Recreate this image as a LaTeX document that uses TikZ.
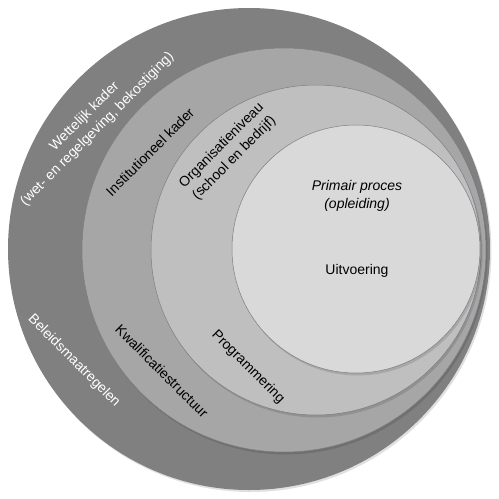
\documentclass[tikz,border=0pt]{standalone}
\usepackage{fontspec}
\setmainfont{Liberation Sans}
\definecolor{ringA}{HTML}{808080}
\definecolor{ringB}{HTML}{A6A6A6}
\definecolor{ringC}{HTML}{BFBFBF}
\definecolor{ringD}{HTML}{D9D9D9}
\definecolor{ringEdge}{HTML}{7A7F86}
\begin{document}
\begin{tikzpicture}[x=1pt,y=-1pt,
  lbl/.style={font=\fontsize{14}{18}\selectfont, align=center, inner sep=0pt},
  wlbl/.style={lbl, text=white},
  blbl/.style={lbl, text=black},
  shade/.style={fill=black, fill opacity=0.12},
  ring/.style={draw=ringEdge, line width=0.5pt}]
\useasboundingbox (0,0) rectangle (499,499);
% shadows and rings
\fill[shade] (250.5,251) circle (241pt);
\fill[ringA] (249,249) circle (241pt);
\fill[shade] (285.5,252.5) circle (202pt);
\filldraw[ringB, ring] (284,250) circle (202pt);
\fill[shade] (317.5,252.5) circle (165pt);
\filldraw[ringC, ring] (316,250) circle (165pt);
\fill[shade] (357.5,251.5) circle (124pt);
\filldraw[ringD, ring] (356,249) circle (124pt);
% labels
\node[wlbl, rotate=45] (wet) at (91,123) {Wettelijk kader\\(wet- en regelgeving, bekostiging)};
\node[blbl, rotate=45] (inst) at (150,152) {Institutioneel kader};
\node[blbl, rotate=45] (org) at (228,152) {Organisatieniveau\\(school en bedrijf)};
\node[blbl] (prim) at (357,196) {\itshape Primair proces\\\itshape (opleiding)};
\node[blbl] (uit) at (357,271) {Uitvoering};
\node[wlbl, rotate=-45] (bel) at (74,361) {Beleidsmaatregelen};
\node[blbl, rotate=-45] (kwal) at (162,371) {Kwalificatiestructuur};
\node[blbl, rotate=-45] (prog) at (248,367) {Programmering};
\end{tikzpicture}
\end{document}
